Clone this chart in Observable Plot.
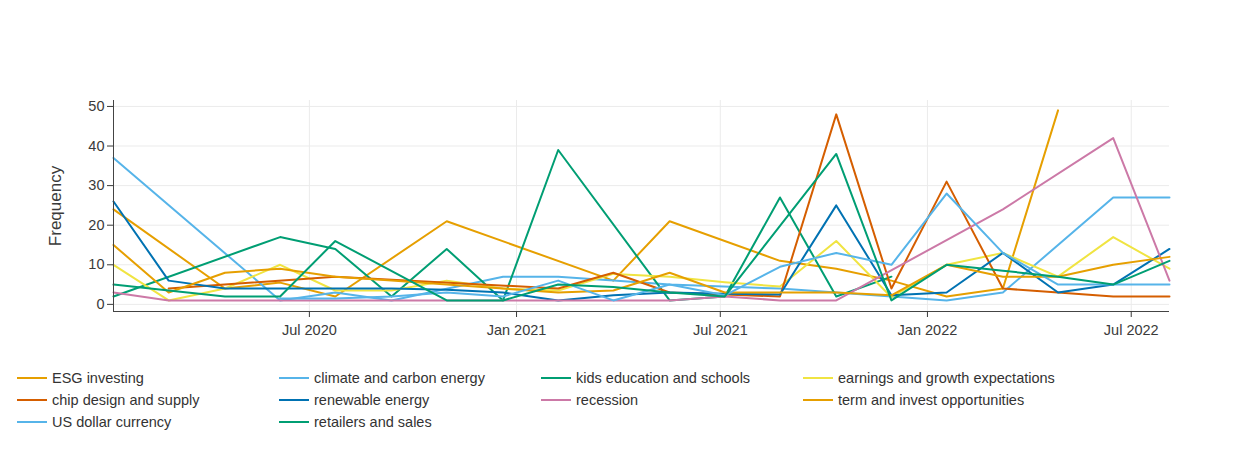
<!DOCTYPE html>
<html><head><meta charset="utf-8">
<script src="https://cdn.jsdelivr.net/npm/d3@7"></script>
<script src="https://cdn.jsdelivr.net/npm/@observablehq/plot@0.6"></script>
<style>
body{margin:0;background:#fff;font-family:"Liberation Sans",Arial,sans-serif;}
#chart svg{display:block}
#legend{display:grid;grid-template-columns:repeat(4,262px);padding-left:17px;margin-top:22px;}
.item{display:flex;align-items:center;height:22px;font-size:14.5px;color:#333;white-space:nowrap;}
.sw{width:30px;height:2px;margin-right:5px;flex:none;}
</style></head><body>
<div id="chart"></div><div id="legend"></div>
<script>
const dates = ["2020-01-09","2020-02-27","2020-04-17","2020-06-05","2020-07-24","2020-09-12","2020-10-31","2020-12-20",
  "2021-02-07","2021-03-28","2021-05-17","2021-07-05","2021-08-23","2021-10-12","2021-11-30","2022-01-18",
  "2022-03-09","2022-04-27","2022-06-15","2022-08-04"];
const seriesNames = ["ESG investing","climate and carbon energy","kids education and schools","earnings and growth expectations",
  "chip design and supply","renewable energy","recession","term and invest opportunities","US dollar currency","retailers and sales"];
const colors = ["#E69F00","#56B4E9","#009E73","#F0E442","#D55E00","#0072B2","#CC79A7","#E69F00","#56B4E9","#009E73"];

const esgInvesting   = [24, null, 4, 5.5, 2, null, 21, null, null, 6, 21, null, 11, 9, 6, 2, 4, 49, null, null];
const climateCarbon  = [37, null, null, 1, 3, 1, null, 7, 7, 6, 5, null, 4, 3, 2, 1, 3, null, 27, 27];
const kidsEducation  = [2, null, null, 17, 14, 2, 14, 1, 39, null, 1, 2, 27, 2, 7, null, null, null, null, null];
const earningsGrowth = [10, 1, 4, 10, 3.5, 3.5, 6, 4, 3.5, 7.7, 7, 5.6, 4.5, 16, 1.8, 10, 13, 7, 17, 9];
const chipDesign     = [null, 4, null, null, 7, null, null, null, 4, 8, 3, 2.5, 2, 48, 4, 31, 4, 3, 2, 2];
const renewable      = [26, 6, 4, 4, 4, 4, 3.7, 3, 1, 2.3, 3, 2.7, 2.5, 25, 2.3, 3, 13, 3, 5, 14];
const recession      = [3, 1, 1, 1, 1, 1, 1, 1, 1, 1, 1, 2, 1, 1, null, null, 24, null, 42, 6];
const termInvest     = [15, 3, 8, 9, 7, 6, 5, 4, 3, 3.5, 8, 3, 3, 3, 2.3, 10, 7, 7, 10, 12];
const usDollar       = [null, null, null, 1.5, 1.5, 2, 3, 2, 6, 1, 5, 2.3, 9.5, 13, 10, 28, 13, 5, 5, 5];
const retailers      = [5, 3.5, 2, 2, 16, null, 1, 1, 5, 4.4, 3, 2, null, 38, 1, 10, 8.5, 7, 5, 11];

const yTicks = [0, 10, 20, 30, 40, 50];
const xTickDates = ["2020-07-01","2021-01-01","2021-07-01","2022-01-01","2022-07-01"];
const xTickLabels = ["Jul 2020","Jan 2021","Jul 2021","Jan 2022","Jul 2022"];

const allSeries = [esgInvesting, climateCarbon, kidsEducation, earningsGrowth, chipDesign, renewable, recession, termInvest, usDollar, retailers];
const points = [];
allSeries.forEach((vals, s) => vals.forEach((v, i) => {
  if (v !== null) points.push({series: seriesNames[s], date: new Date(dates[i]), value: v});
}));

const xDomain = [new Date(dates[0]), new Date(dates[dates.length - 1])];
const yDomain = [-1.8, 51.5];
const xTicks = xTickDates.map(d => new Date(d));
const labelOf = d => xTickLabels[xTicks.findIndex(t => +t === +d)];

const chart = Plot.plot({
  width: 1250, height: 345,
  marginTop: 100, marginLeft: 113, marginRight: 81, marginBottom: 34,
  style: {fontFamily: "'Liberation Sans', Arial, sans-serif", fontSize: "14px", color: "#3a3a3a", background: "white"},
  x: {type: "utc", domain: xDomain},
  y: {domain: yDomain},
  color: {domain: seriesNames, range: colors},
  marks: [
    Plot.gridY(yTicks, {stroke: "#ebebeb", strokeOpacity: 1}),
    Plot.gridX(xTicks, {stroke: "#ebebeb", strokeOpacity: 1}),
    Plot.line(points, {x: "date", y: "value", z: "series", stroke: "series", strokeWidth: 2}),
    Plot.ruleX([xDomain[0]], {stroke: "#444"}),
    Plot.ruleY([yDomain[0]], {stroke: "#444"}),
    Plot.axisY(yTicks, {tickSize: 6, tickPadding: 3, label: null, fontSize: 14.5}),
    Plot.axisX(xTicks, {tickSize: 6, tickPadding: 7, tickFormat: labelOf, label: null, fontSize: 14.5}),
    Plot.text(["Frequency"], {frameAnchor: "left", dx: -58, rotate: -90, textAnchor: "middle", fontSize: 17, fill: "#3a3a3a"})
  ]
});
document.getElementById("chart").appendChild(chart);

const legend = document.getElementById("legend");
seriesNames.forEach((n, i) => {
  const d = document.createElement("div");
  d.className = "item";
  d.innerHTML = `<span class="sw" style="background:${colors[i]}"></span><span>${n}</span>`;
  legend.appendChild(d);
});
</script>
</body></html>
